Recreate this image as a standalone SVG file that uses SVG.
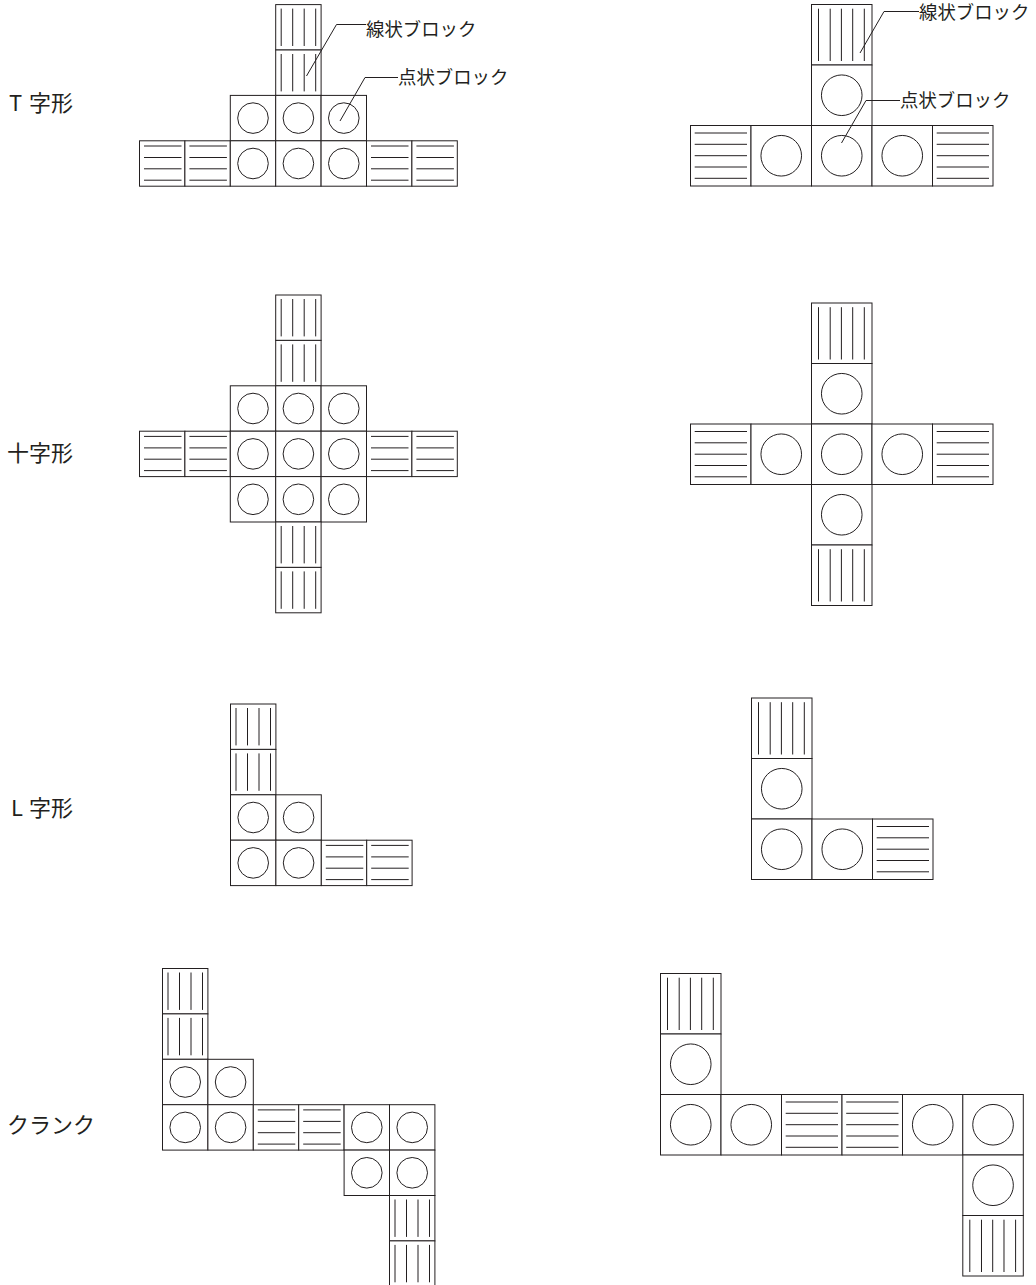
<svg xmlns="http://www.w3.org/2000/svg" width="1036" height="1285" viewBox="0 0 1036 1285">
<style>
.c{fill:#fff;stroke:#231f20;stroke-width:1}
.l{fill:none;stroke:#231f20;stroke-width:1}
text{font-family:"Noto Sans CJK JP","Liberation Sans",sans-serif;fill:#231f20}
.a{font-size:18.4px}
.b{font-size:22px}
</style>
<defs>
<g id="sd"><rect class="c" width="45.4" height="45.4"/><circle class="l" cx="22.7" cy="22.7" r="15.3"/></g>
<g id="sv"><rect class="c" width="45.4" height="45.4"/><path class="l" d="M5.5 4V41.400M17 4V41.400M28.500 4V41.400M40 4V41.400"/></g>
<g id="sh"><rect class="c" width="45.400" height="45.400"/><path class="l" d="M4.500 5.200H42M4.500 16.700H42M4.500 28H42M4.500 39.400H42"/></g>
<g id="ld"><rect class="c" width="60.500" height="60.500"/><circle class="l" cx="30.250" cy="30.250" r="20.300"/></g>
<g id="lv"><rect class="c" width="60.500" height="60.500"/><path class="l" d="M7 4.200V56.500M18.700 4.200V56.500M29.900 4.200V56.500M41.200 4.200V56.500M52.800 4.200V56.500"/></g>
<g id="lh"><rect class="c" width="60.500" height="60.500"/><path class="l" d="M4.200 7.500H56.500M4.200 18.800H56.500M4.200 30.200H56.500M4.200 41.500H56.500M4.200 52.800H56.500"/></g>
</defs>
<g id="label-t"><text class="b" x="9" y="111">T<tspan x="29">字形</tspan></text></g>
<g id="label-cross"><text class="b" x="7" y="461">十字形</text></g>
<g id="label-l"><text class="b" x="11" y="816">L<tspan x="29">字形</tspan></text></g>
<g id="label-crank"><text class="b" x="7" y="1133">クランク</text></g>

<g id="t-small">
<use href="#sv" x="275.700" y="4.600"/><use href="#sv" x="275.700" y="50"/>
<use href="#sd" x="230.300" y="95.400"/><use href="#sd" x="275.700" y="95.400"/><use href="#sd" x="321.100" y="95.400"/>
<use href="#sh" x="139.500" y="140.800"/><use href="#sh" x="184.900" y="140.800"/><use href="#sd" x="230.300" y="140.800"/><use href="#sd" x="275.700" y="140.800"/><use href="#sd" x="321.100" y="140.800"/><use href="#sh" x="366.500" y="140.800"/><use href="#sh" x="411.900" y="140.800"/>
</g>
<g id="t-large">
<use href="#lv" x="811.500" y="4.500"/><use href="#ld" x="811.500" y="65"/>
<use href="#lh" x="690.500" y="125.500"/><use href="#ld" x="751" y="125.500"/><use href="#ld" x="811.500" y="125.500"/><use href="#ld" x="872" y="125.500"/><use href="#lh" x="932.500" y="125.500"/>
</g>
<g id="cross-small">
<use href="#sv" x="275.700" y="295"/><use href="#sv" x="275.700" y="340.400"/>
<use href="#sd" x="230.300" y="385.800"/><use href="#sd" x="275.700" y="385.800"/><use href="#sd" x="321.100" y="385.800"/>
<use href="#sh" x="139.500" y="431.200"/><use href="#sh" x="184.900" y="431.200"/><use href="#sd" x="230.300" y="431.200"/><use href="#sd" x="275.700" y="431.200"/><use href="#sd" x="321.100" y="431.200"/><use href="#sh" x="366.500" y="431.200"/><use href="#sh" x="411.900" y="431.200"/>
<use href="#sd" x="230.300" y="476.600"/><use href="#sd" x="275.700" y="476.600"/><use href="#sd" x="321.100" y="476.600"/>
<use href="#sv" x="275.700" y="522"/><use href="#sv" x="275.700" y="567.400"/>
</g>
<g id="cross-large">
<use href="#lv" x="811.500" y="303"/><use href="#ld" x="811.500" y="363.500"/>
<use href="#lh" x="690.500" y="424"/><use href="#ld" x="751" y="424"/><use href="#ld" x="811.500" y="424"/><use href="#ld" x="872" y="424"/><use href="#lh" x="932.500" y="424"/>
<use href="#ld" x="811.500" y="484.500"/><use href="#lv" x="811.500" y="545"/>
</g>
<g id="l-small">
<use href="#sv" x="230.500" y="704"/><use href="#sv" x="230.500" y="749.400"/>
<use href="#sd" x="230.500" y="794.800"/><use href="#sd" x="275.900" y="794.800"/>
<use href="#sd" x="230.500" y="840.200"/><use href="#sd" x="275.900" y="840.200"/><use href="#sh" x="321.300" y="840.200"/><use href="#sh" x="366.700" y="840.200"/>
</g>
<g id="l-large">
<use href="#lv" x="751.500" y="698"/><use href="#ld" x="751.500" y="758.500"/>
<use href="#ld" x="751.500" y="819"/><use href="#ld" x="812" y="819"/><use href="#lh" x="872.500" y="819"/>
</g>
<g id="crank-small">
<use href="#sv" x="162.500" y="968.500"/><use href="#sv" x="162.500" y="1013.900"/>
<use href="#sd" x="162.500" y="1059.300"/><use href="#sd" x="207.900" y="1059.300"/>
<use href="#sd" x="162.500" y="1104.700"/><use href="#sd" x="207.900" y="1104.700"/><use href="#sh" x="253.300" y="1104.700"/><use href="#sh" x="298.700" y="1104.700"/><use href="#sd" x="344.100" y="1104.700"/><use href="#sd" x="389.500" y="1104.700"/>
<use href="#sd" x="344.100" y="1150.100"/><use href="#sd" x="389.500" y="1150.100"/>
<use href="#sv" x="389.500" y="1195.500"/><use href="#sv" x="389.500" y="1240.900"/>
</g>
<g id="crank-large">
<use href="#lv" x="660.500" y="973.500"/><use href="#ld" x="660.500" y="1034"/>
<use href="#ld" x="660.500" y="1094.500"/><use href="#ld" x="721" y="1094.500"/><use href="#lh" x="781.500" y="1094.500"/><use href="#lh" x="842" y="1094.500"/><use href="#ld" x="902.500" y="1094.500"/><use href="#ld" x="962.800" y="1094.500"/>
<use href="#ld" x="962.800" y="1155"/><use href="#lv" x="962.800" y="1215.500"/>
</g>
<g id="connectors">
<path class="l" d="M306.500 76L336.500 24.500H366"/>
<path class="l" d="M340 121L365 77.500H398"/>
<path class="l" d="M860 53L884 11.500H919"/>
<path class="l" d="M841.500 143L866 100.500H900"/>
</g>
<g id="callouts">
<text class="a" x="366" y="36">線状ブロック</text>
<text class="a" x="398" y="84">点状ブロック</text>
<text class="a" x="919" y="18.500">線状ブロック</text>
<text class="a" x="900" y="106.500">点状ブロック</text>
</g>
</svg>
